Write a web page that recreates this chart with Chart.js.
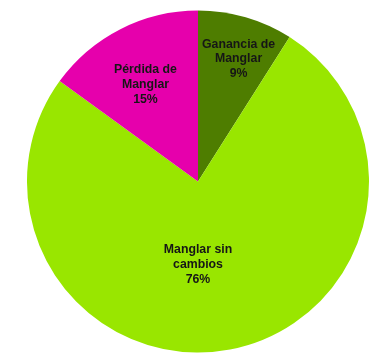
<!DOCTYPE html>
<html>
<head>
<meta charset="utf-8">
<script src="https://cdn.jsdelivr.net/npm/chart.js@4"></script>
<style>
html,body{margin:0;padding:0;background:#fff;}
#c{display:block;}
</style>
</head>
<body>
<canvas id="c" width="381" height="359"></canvas>
<script>
const categories = [["Ganancia de", "Manglar"], ["Manglar sin", "cambios"], ["Pérdida de", "Manglar"]];
const values = [9, 76, 15];
const percentLabels = ["9%", "76%", "15%"];
const colors = ["#4e7d00", "#99e600", "#e600ac"];
// label placement: fraction of radius, angle nudge (degrees)
const labelRadius = [0.76, 0.48, 0.65];
const labelNudge = [2.0, 10.8, -1.2];

const labelPlugin = {
  id: 'sliceLabels',
  afterDatasetsDraw(chart) {
    const ctx = chart.ctx;
    const meta = chart.getDatasetMeta(0);
    ctx.save();
    ctx.font = 'bold 12.3px "Liberation Sans", Arial, sans-serif';
    ctx.fillStyle = '#161616';
    ctx.textAlign = 'center';
    ctx.textBaseline = 'middle';
    meta.data.forEach((arc, i) => {
      const p = arc.getProps(['x','y','startAngle','endAngle','outerRadius'], true);
      const mid = (p.startAngle + p.endAngle) / 2 + labelNudge[i] * Math.PI / 180;
      const r = p.outerRadius * labelRadius[i];
      const x = p.x + r * Math.cos(mid);
      const y = p.y + r * Math.sin(mid);
      const lines = categories[i].concat([percentLabels[i]]);
      const lh = 14.6;
      lines.forEach((t, k) => {
        ctx.fillText(t, x, y + 1 + (k - (lines.length - 1) / 2) * lh);
      });
    });
    ctx.restore();
  }
};

new Chart(document.getElementById('c'), {
  type: 'pie',
  data: {
    labels: categories.map(c => c.join(' ')),
    datasets: [{
      data: values,
      backgroundColor: colors,
      borderWidth: 0
    }]
  },
  options: {
    responsive: false,
    animation: false,
    layout: { padding: { left: 27, right: 12, top: 10, bottom: 6 } },
    plugins: {
      legend: { display: false },
      tooltip: { enabled: false }
    }
  },
  plugins: [labelPlugin]
});
</script>
</body>
</html>
